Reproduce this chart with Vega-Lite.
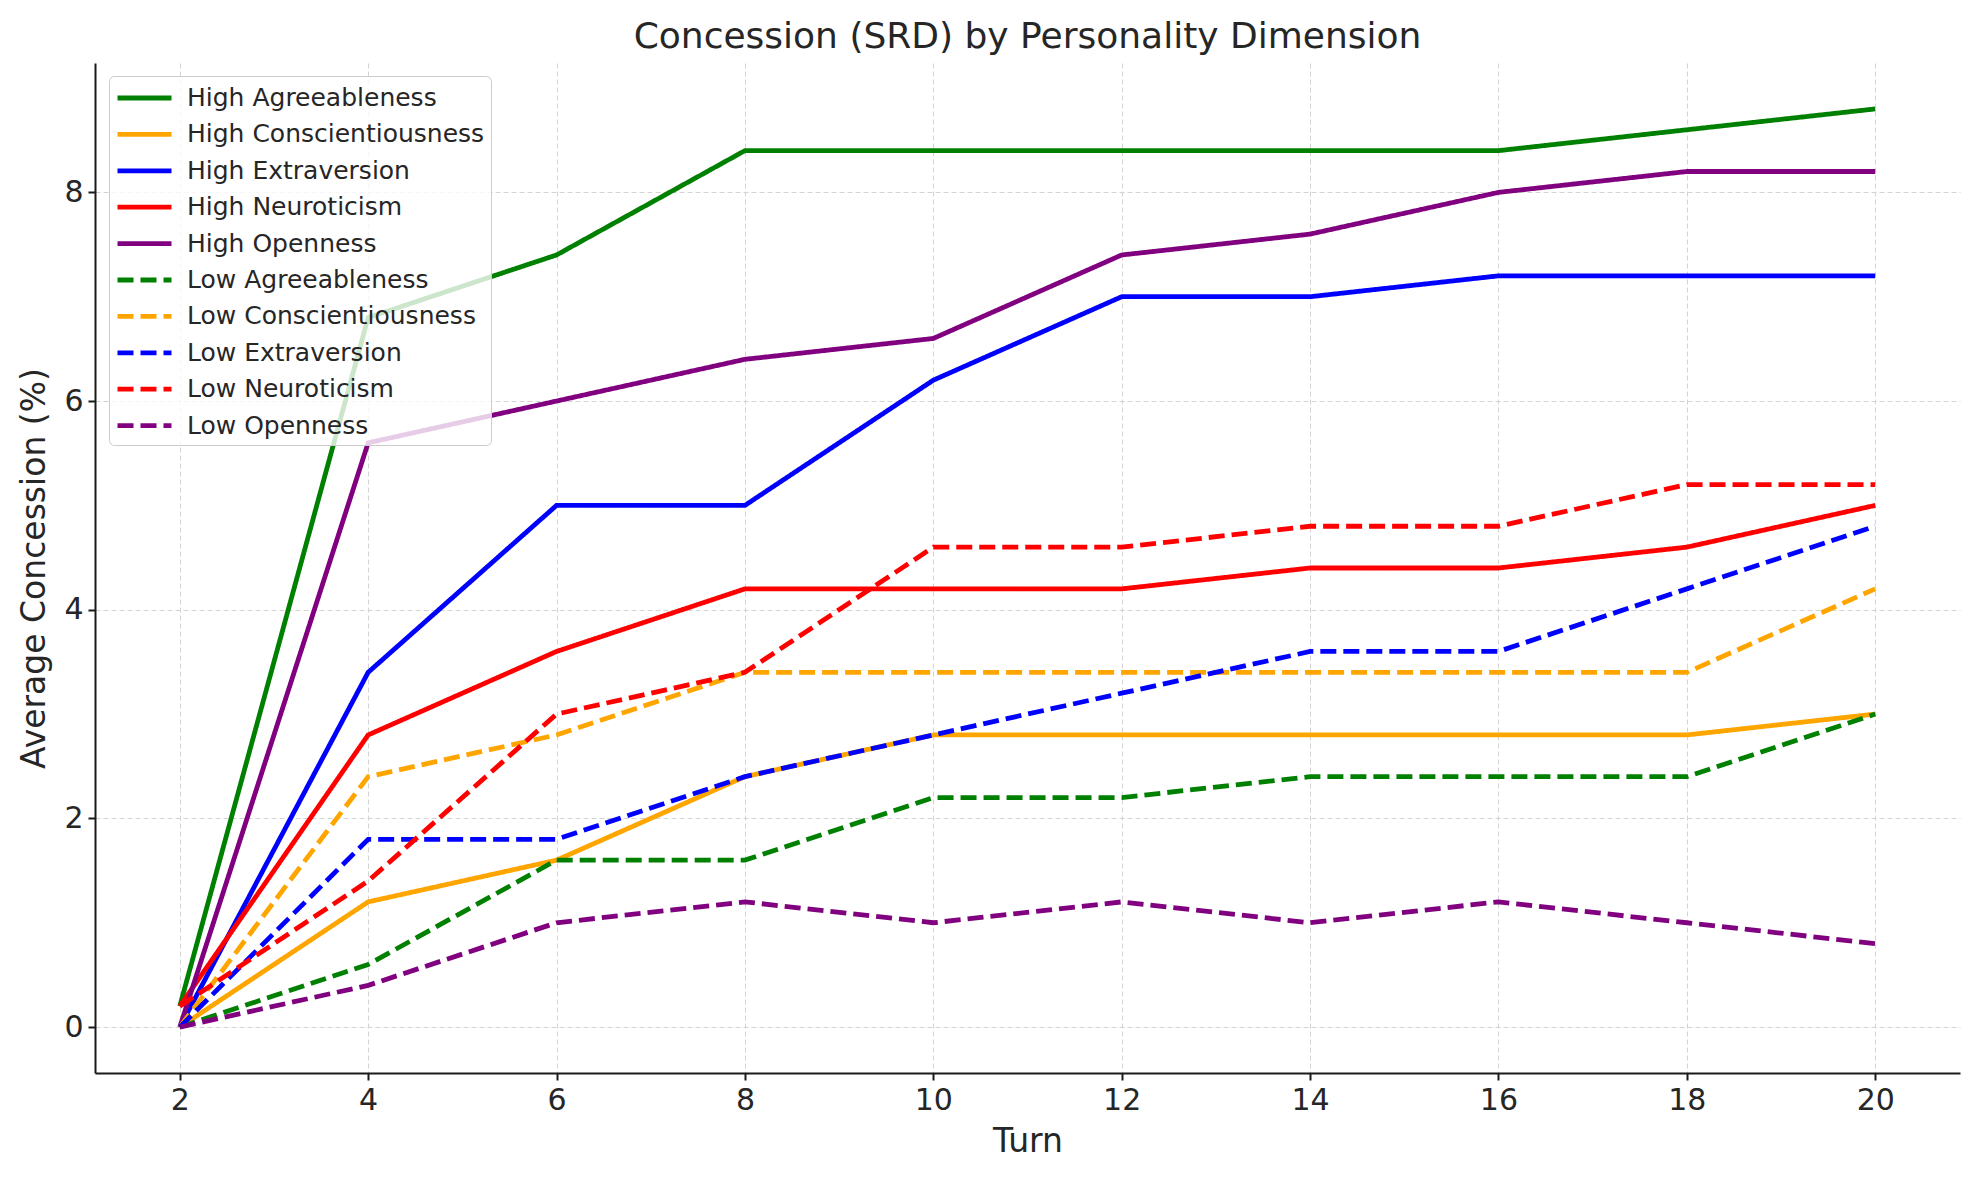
{
 "$schema": "https://vega.github.io/schema/vega-lite/v6.json",
 "width": 1865,
 "height": 1010,
 "autosize": {"type": "none"},
 "padding": {"left": 95, "top": 63, "right": 19, "bottom": 107},
 "background": "white",
 "title": {"text": "Concession (SRD) by Personality Dimension", "fontSize": 36, "font": "DejaVu Sans", "fontWeight": "normal", "color": "#262626", "anchor": "middle", "offset": 7.5},
 "config": {
  "view": {"stroke": null},
  "font": "DejaVu Sans",
  "axis": {
   "domainColor": "#1a1a1a", "domainWidth": 2, "tickColor": "#1a1a1a", "tickWidth": 2, "tickSize": 7,
   "labelFont": "DejaVu Sans", "labelFontSize": 30, "labelColor": "#262626", "labelPadding": 5,
   "titleFont": "DejaVu Sans", "titleFontSize": 33, "titleFontWeight": "normal", "titleColor": "#262626",
   "grid": true, "gridColor": "#d3d3d3", "gridDash": [5, 3], "gridWidth": 1
  },
  "legend": {
   "labelFont": "DejaVu Sans", "labelFontSize": 25, "labelColor": "#262626", "labelLimit": 0,
   "symbolType": "M-1,0H3", "symbolSize": 729, "symbolStrokeWidth": 4.8,
   "rowPadding": 7.4, "labelOffset": 40, "padding": 6,
   "fillColor": "rgba(255,255,255,0.8)", "strokeColor": "#cccccc", "cornerRadius": 5
  }
 },
 "data": {"values": [
  {"turn": 2, "value": 0.2, "series": "High Agreeableness"},
  {"turn": 4, "value": 6.8, "series": "High Agreeableness"},
  {"turn": 6, "value": 7.4, "series": "High Agreeableness"},
  {"turn": 8, "value": 8.4, "series": "High Agreeableness"},
  {"turn": 10, "value": 8.4, "series": "High Agreeableness"},
  {"turn": 12, "value": 8.4, "series": "High Agreeableness"},
  {"turn": 14, "value": 8.4, "series": "High Agreeableness"},
  {"turn": 16, "value": 8.4, "series": "High Agreeableness"},
  {"turn": 18, "value": 8.6, "series": "High Agreeableness"},
  {"turn": 20, "value": 8.8, "series": "High Agreeableness"},
  {"turn": 2, "value": 0, "series": "High Conscientiousness"},
  {"turn": 4, "value": 1.2, "series": "High Conscientiousness"},
  {"turn": 6, "value": 1.6, "series": "High Conscientiousness"},
  {"turn": 8, "value": 2.4, "series": "High Conscientiousness"},
  {"turn": 10, "value": 2.8, "series": "High Conscientiousness"},
  {"turn": 12, "value": 2.8, "series": "High Conscientiousness"},
  {"turn": 14, "value": 2.8, "series": "High Conscientiousness"},
  {"turn": 16, "value": 2.8, "series": "High Conscientiousness"},
  {"turn": 18, "value": 2.8, "series": "High Conscientiousness"},
  {"turn": 20, "value": 3.0, "series": "High Conscientiousness"},
  {"turn": 2, "value": 0, "series": "High Extraversion"},
  {"turn": 4, "value": 3.4, "series": "High Extraversion"},
  {"turn": 6, "value": 5.0, "series": "High Extraversion"},
  {"turn": 8, "value": 5.0, "series": "High Extraversion"},
  {"turn": 10, "value": 6.2, "series": "High Extraversion"},
  {"turn": 12, "value": 7.0, "series": "High Extraversion"},
  {"turn": 14, "value": 7.0, "series": "High Extraversion"},
  {"turn": 16, "value": 7.2, "series": "High Extraversion"},
  {"turn": 18, "value": 7.2, "series": "High Extraversion"},
  {"turn": 20, "value": 7.2, "series": "High Extraversion"},
  {"turn": 2, "value": 0.2, "series": "High Neuroticism"},
  {"turn": 4, "value": 2.8, "series": "High Neuroticism"},
  {"turn": 6, "value": 3.6, "series": "High Neuroticism"},
  {"turn": 8, "value": 4.2, "series": "High Neuroticism"},
  {"turn": 10, "value": 4.2, "series": "High Neuroticism"},
  {"turn": 12, "value": 4.2, "series": "High Neuroticism"},
  {"turn": 14, "value": 4.4, "series": "High Neuroticism"},
  {"turn": 16, "value": 4.4, "series": "High Neuroticism"},
  {"turn": 18, "value": 4.6, "series": "High Neuroticism"},
  {"turn": 20, "value": 5.0, "series": "High Neuroticism"},
  {"turn": 2, "value": 0, "series": "High Openness"},
  {"turn": 4, "value": 5.6, "series": "High Openness"},
  {"turn": 6, "value": 6.0, "series": "High Openness"},
  {"turn": 8, "value": 6.4, "series": "High Openness"},
  {"turn": 10, "value": 6.6, "series": "High Openness"},
  {"turn": 12, "value": 7.4, "series": "High Openness"},
  {"turn": 14, "value": 7.6, "series": "High Openness"},
  {"turn": 16, "value": 8.0, "series": "High Openness"},
  {"turn": 18, "value": 8.2, "series": "High Openness"},
  {"turn": 20, "value": 8.2, "series": "High Openness"},
  {"turn": 2, "value": 0, "series": "Low Agreeableness"},
  {"turn": 4, "value": 0.6, "series": "Low Agreeableness"},
  {"turn": 6, "value": 1.6, "series": "Low Agreeableness"},
  {"turn": 8, "value": 1.6, "series": "Low Agreeableness"},
  {"turn": 10, "value": 2.2, "series": "Low Agreeableness"},
  {"turn": 12, "value": 2.2, "series": "Low Agreeableness"},
  {"turn": 14, "value": 2.4, "series": "Low Agreeableness"},
  {"turn": 16, "value": 2.4, "series": "Low Agreeableness"},
  {"turn": 18, "value": 2.4, "series": "Low Agreeableness"},
  {"turn": 20, "value": 3.0, "series": "Low Agreeableness"},
  {"turn": 2, "value": 0, "series": "Low Conscientiousness"},
  {"turn": 4, "value": 2.4, "series": "Low Conscientiousness"},
  {"turn": 6, "value": 2.8, "series": "Low Conscientiousness"},
  {"turn": 8, "value": 3.4, "series": "Low Conscientiousness"},
  {"turn": 10, "value": 3.4, "series": "Low Conscientiousness"},
  {"turn": 12, "value": 3.4, "series": "Low Conscientiousness"},
  {"turn": 14, "value": 3.4, "series": "Low Conscientiousness"},
  {"turn": 16, "value": 3.4, "series": "Low Conscientiousness"},
  {"turn": 18, "value": 3.4, "series": "Low Conscientiousness"},
  {"turn": 20, "value": 4.2, "series": "Low Conscientiousness"},
  {"turn": 2, "value": 0, "series": "Low Extraversion"},
  {"turn": 4, "value": 1.8, "series": "Low Extraversion"},
  {"turn": 6, "value": 1.8, "series": "Low Extraversion"},
  {"turn": 8, "value": 2.4, "series": "Low Extraversion"},
  {"turn": 10, "value": 2.8, "series": "Low Extraversion"},
  {"turn": 12, "value": 3.2, "series": "Low Extraversion"},
  {"turn": 14, "value": 3.6, "series": "Low Extraversion"},
  {"turn": 16, "value": 3.6, "series": "Low Extraversion"},
  {"turn": 18, "value": 4.2, "series": "Low Extraversion"},
  {"turn": 20, "value": 4.8, "series": "Low Extraversion"},
  {"turn": 2, "value": 0.2, "series": "Low Neuroticism"},
  {"turn": 4, "value": 1.4, "series": "Low Neuroticism"},
  {"turn": 6, "value": 3.0, "series": "Low Neuroticism"},
  {"turn": 8, "value": 3.4, "series": "Low Neuroticism"},
  {"turn": 10, "value": 4.6, "series": "Low Neuroticism"},
  {"turn": 12, "value": 4.6, "series": "Low Neuroticism"},
  {"turn": 14, "value": 4.8, "series": "Low Neuroticism"},
  {"turn": 16, "value": 4.8, "series": "Low Neuroticism"},
  {"turn": 18, "value": 5.2, "series": "Low Neuroticism"},
  {"turn": 20, "value": 5.2, "series": "Low Neuroticism"},
  {"turn": 2, "value": 0, "series": "Low Openness"},
  {"turn": 4, "value": 0.4, "series": "Low Openness"},
  {"turn": 6, "value": 1.0, "series": "Low Openness"},
  {"turn": 8, "value": 1.2, "series": "Low Openness"},
  {"turn": 10, "value": 1.0, "series": "Low Openness"},
  {"turn": 12, "value": 1.2, "series": "Low Openness"},
  {"turn": 14, "value": 1.0, "series": "Low Openness"},
  {"turn": 16, "value": 1.2, "series": "Low Openness"},
  {"turn": 18, "value": 1.0, "series": "Low Openness"},
  {"turn": 20, "value": 0.8, "series": "Low Openness"}
 ]},
 "mark": {"type": "line", "strokeWidth": 4.8},
 "encoding": {
  "x": {"field": "turn", "type": "quantitative", "scale": {"domain": [1.1, 20.9], "nice": false, "zero": false},
        "axis": {"values": [2, 4, 6, 8, 10, 12, 14, 16, 18, 20], "title": "Turn", "titlePadding": 10}},
  "y": {"field": "value", "type": "quantitative", "scale": {"domain": [-0.44, 9.24], "nice": false, "zero": false},
        "axis": {"values": [0, 2, 4, 6, 8], "title": "Average Concession (%)", "titlePadding": 12}},
  "color": {"field": "series", "type": "nominal",
   "scale": {"domain": ["High Agreeableness", "High Conscientiousness", "High Extraversion", "High Neuroticism", "High Openness", "Low Agreeableness", "Low Conscientiousness", "Low Extraversion", "Low Neuroticism", "Low Openness"],
             "range": ["#008000", "#FFA500", "#0000FF", "#FF0000", "#800080", "#008000", "#FFA500", "#0000FF", "#FF0000", "#800080"]},
   "legend": {"title": null, "orient": "none", "legendX": 14, "legendY": 13}},
  "strokeDash": {"field": "series", "type": "nominal",
   "scale": {"domain": ["High Agreeableness", "High Conscientiousness", "High Extraversion", "High Neuroticism", "High Openness", "Low Agreeableness", "Low Conscientiousness", "Low Extraversion", "Low Neuroticism", "Low Openness"],
             "range": [[1, 0], [1, 0], [1, 0], [1, 0], [1, 0], [16, 7], [16, 7], [16, 7], [16, 7], [16, 7]]},
   "legend": {"title": null, "orient": "none", "legendX": 14, "legendY": 13}}
 }
}
